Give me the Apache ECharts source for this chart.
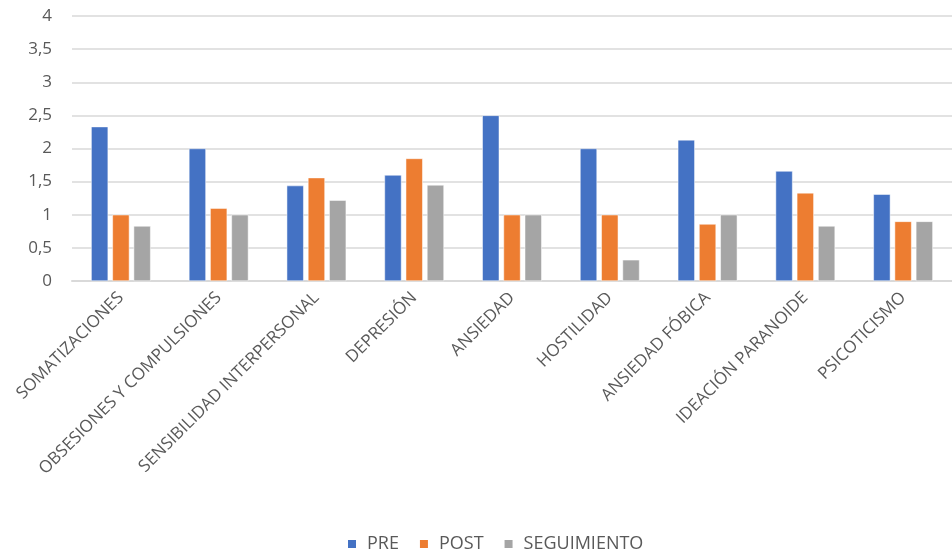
<!DOCTYPE html>
<html>
<head>
<meta charset="utf-8">
<script src="https://cdn.jsdelivr.net/npm/echarts@6/dist/echarts.min.js"></script>
<style>
  html, body { margin: 0; padding: 0; background: #fff; }
  #chart { width: 952px; height: 552px; }
</style>
</head>
<body>
<div id="chart"></div>
<script>
var categories = ['SOMATIZACIONES', 'OBSESIONES Y COMPULSIONES', 'SENSIBILIDAD INTERPERSONAL', 'DEPRESIÓN',
  'ANSIEDAD', 'HOSTILIDAD', 'ANSIEDAD FÓBICA', 'IDEACIÓN PARANOIDE', 'PSICOTICISMO']
var pre = [2.33, 2.0, 1.44, 1.6, 2.5, 2.0, 2.13, 1.66, 1.31]
var post = [1.0, 1.1, 1.56, 1.85, 1.0, 1.0, 0.86, 1.33, 0.9]
var seguimiento = [0.83, 1.0, 1.22, 1.45, 1.0, 0.32, 1.0, 0.83, 0.9]
var seriesNames = ['PRE', 'POST', 'SEGUIMIENTO']
var colors = ['#4472c4', '#ed7d31', '#a5a5a5']

var chart = echarts.init(document.getElementById('chart'))
var font = '"Open Sans", "DejaVu Sans", sans-serif'

function bar (name, data, color) {
  return {
    name: name,
    type: 'bar',
    data: data,
    barWidth: 17,
    barGap: '25%',
    itemStyle: { color: color, borderColor: '#fff', borderWidth: 0.5 }
  }
}

var option = {
  color: colors,
  animation: false,
  textStyle: { fontFamily: font },
  grid: { left: 72, top: 16, width: 882, height: 265 },
  legend: {
    top: 530,
    left: 341,
    itemWidth: 10,
    itemHeight: 10,
    itemGap: 19,
    icon: 'rect',
    textStyle: { color: '#595959', fontSize: 18, fontFamily: font, padding: [0, 0, 0, 5] },
    data: seriesNames
  },
  xAxis: {
    type: 'category',
    data: categories,
    axisLine: { show: true, lineStyle: { color: '#d9d9d9', width: 2 } },
    axisTick: { show: false },
    axisLabel: {
      rotate: 45,
      interval: 0,
      margin: 14,
      color: '#595959',
      fontSize: 17,
      fontFamily: font
    }
  },
  yAxis: {
    type: 'value',
    min: 0,
    max: 4,
    interval: 0.5,
    axisLine: { show: false },
    axisTick: { show: false },
    splitLine: { lineStyle: { color: '#d9d9d9', width: 1.5 } },
    axisLabel: {
      margin: 20,
      color: '#595959',
      fontSize: 17,
      fontFamily: font,
      formatter: function (v) { return String(v).replace('.', ',') }
    }
  },
  series: [
    bar(seriesNames[0], pre, colors[0]),
    bar(seriesNames[1], post, colors[1]),
    bar(seriesNames[2], seguimiento, colors[2])
  ]
}

chart.setOption(option)
</script>
</body>
</html>
